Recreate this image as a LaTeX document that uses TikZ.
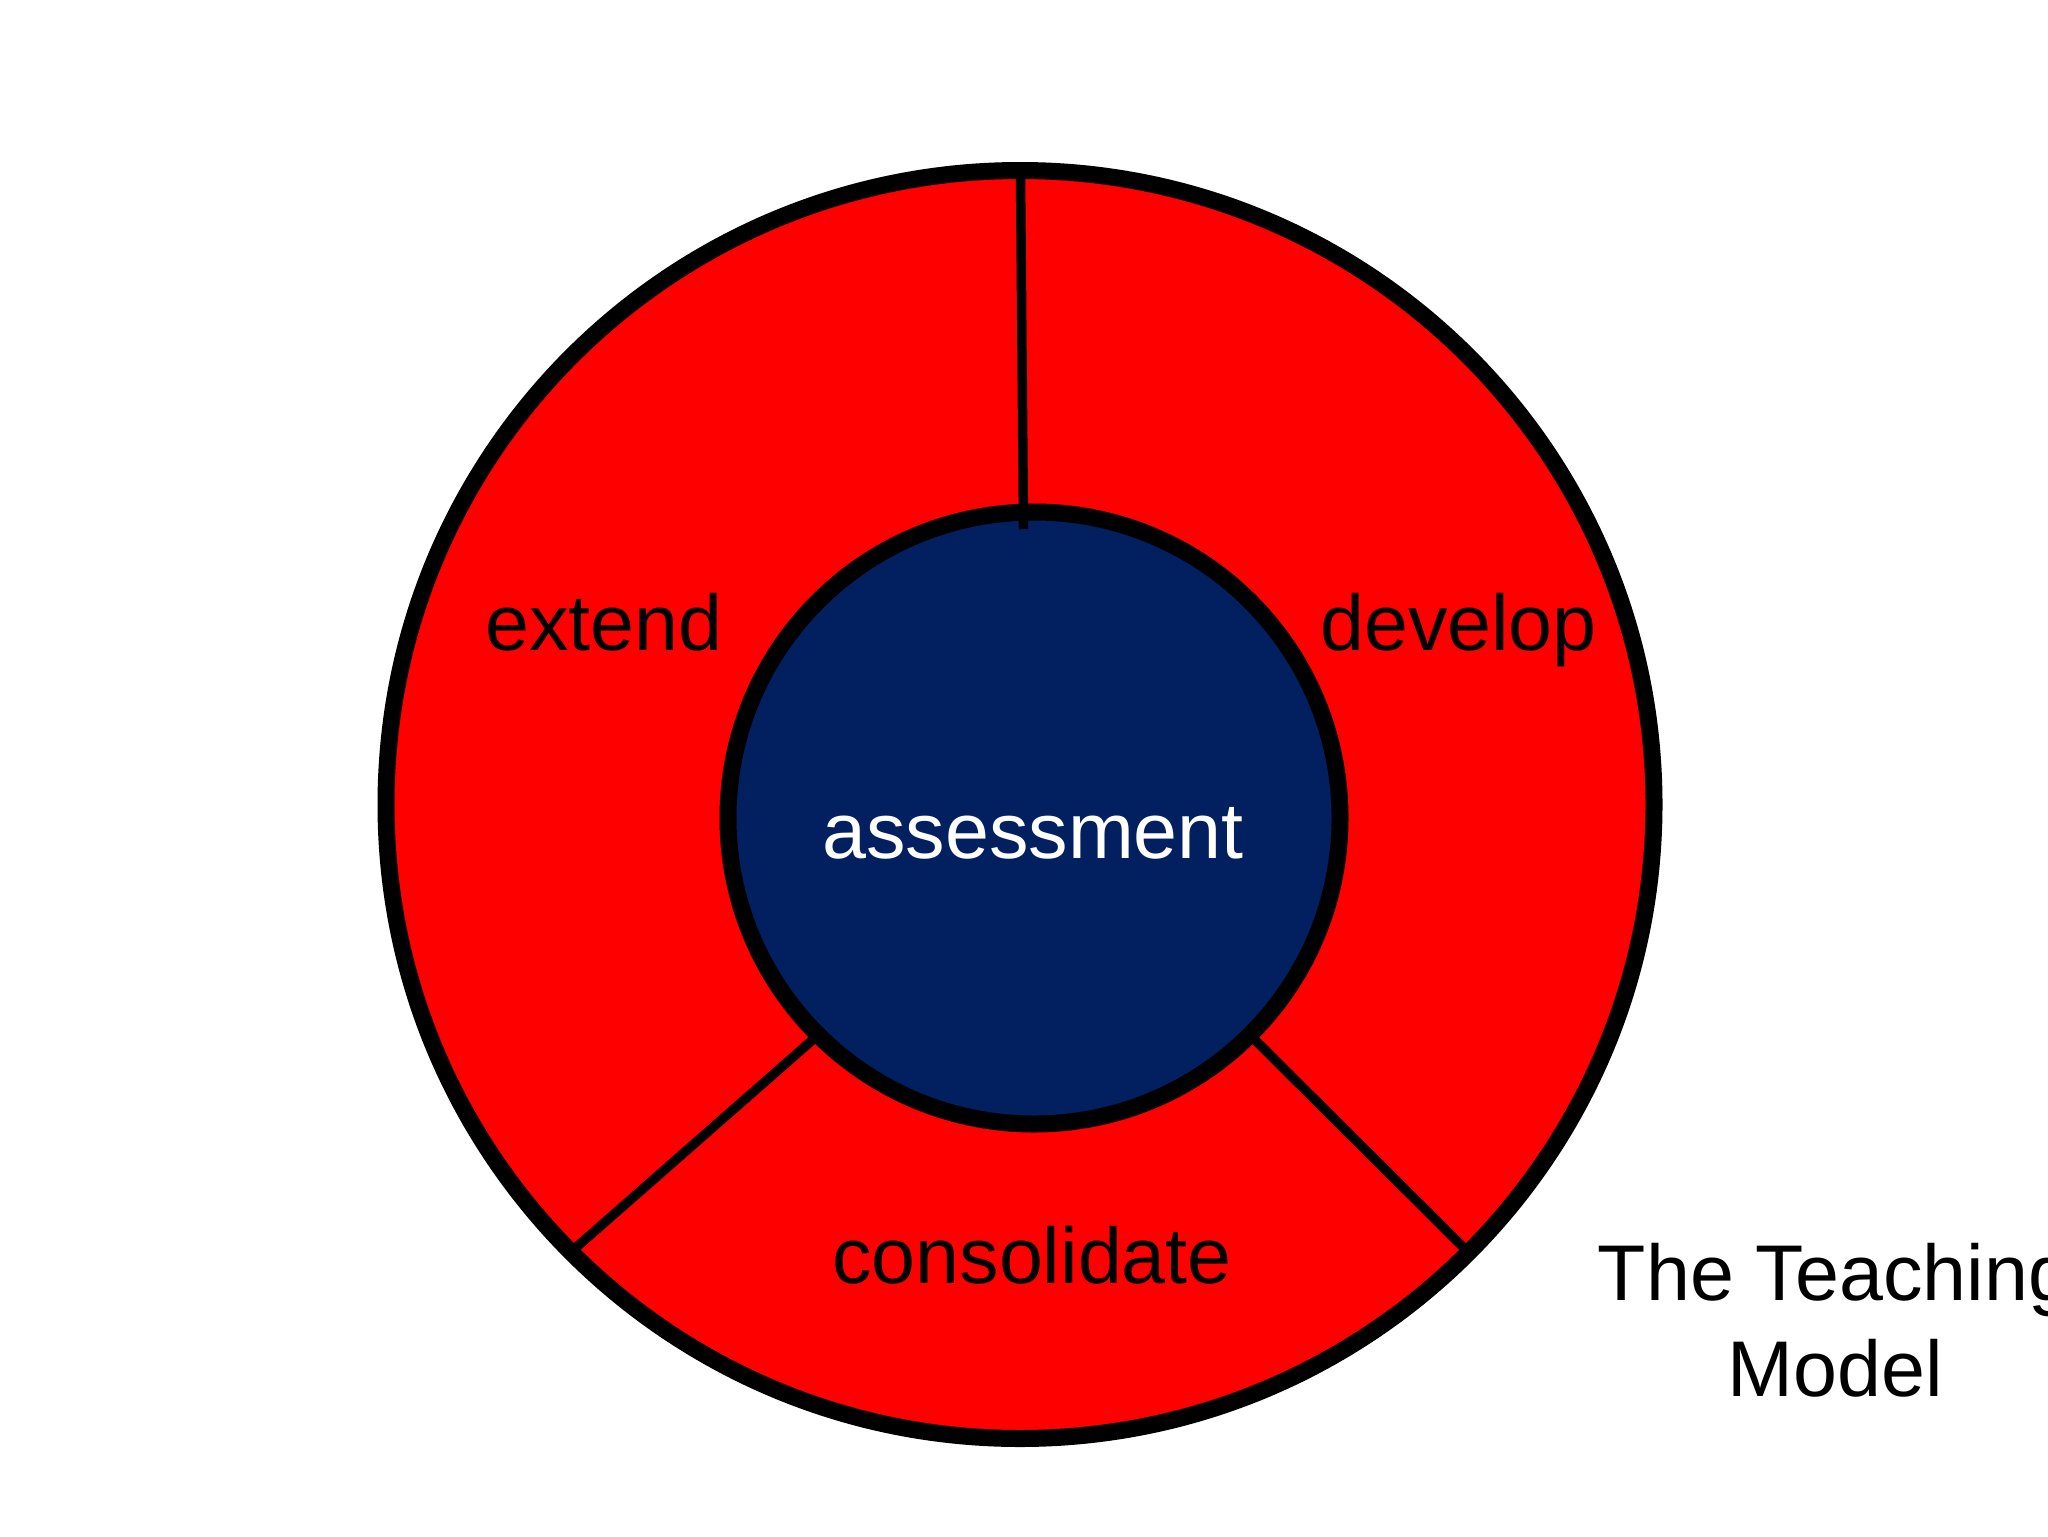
\documentclass[tikz,border=0pt]{standalone}
\usepackage{fontspec}
\setmainfont{Liberation Sans}
\definecolor{ringred}{RGB}{255,0,0}
\definecolor{corenavy}{RGB}{2,31,96}
\begin{document}
\begin{tikzpicture}[x=0.5pt,y=-0.5pt,
  lbl/.style={anchor=base, inner sep=0pt, font=\fontsize{39.5}{47.4}\selectfont},
  ringline/.style={line width=8.5pt},
  divider/.style={line width=4.75pt}]
\useasboundingbox (0,0) rectangle (2048,1536);
\fill[white] (0,0) rectangle (2048,1536);
\coordinate (oc) at (1020,804.5);
\coordinate (ic) at (1034,818);
% outer ring
\fill[ringred] (oc) circle[radius=634];
% dividers
\coordinate (llin) at (813,1039.5);
\coordinate (llout) at (572,1251);
\coordinate (lrin) at (1254,1039);
\coordinate (lrout) at (1467,1251);
\coordinate (topout) at (1020.5,175);
\coordinate (topin) at (1023.5,529);
\draw[divider] (llin) -- (llout);
\draw[divider] (lrin) -- (lrout);
% core
\filldraw[fill=corenavy, ringline] (ic) circle[radius=306];
\draw[divider] (topout) -- (topin);
\draw[ringline] (oc) circle[radius=634];
% labels
\node[lbl] (extend) at (604,650.7) {extend};
\node[lbl] (develop) at (1458.5,650.7) {develop};
\node[lbl, text=white] (assess) at (1033,858.3) {assessment};
\node[lbl] (consol) at (1032,1283.3) {consolidate};
\node[lbl] (title1) at (1835,1300) {The Teaching};
\node[lbl] (title2) at (1835,1396) {Model};
\end{tikzpicture}
\end{document}
